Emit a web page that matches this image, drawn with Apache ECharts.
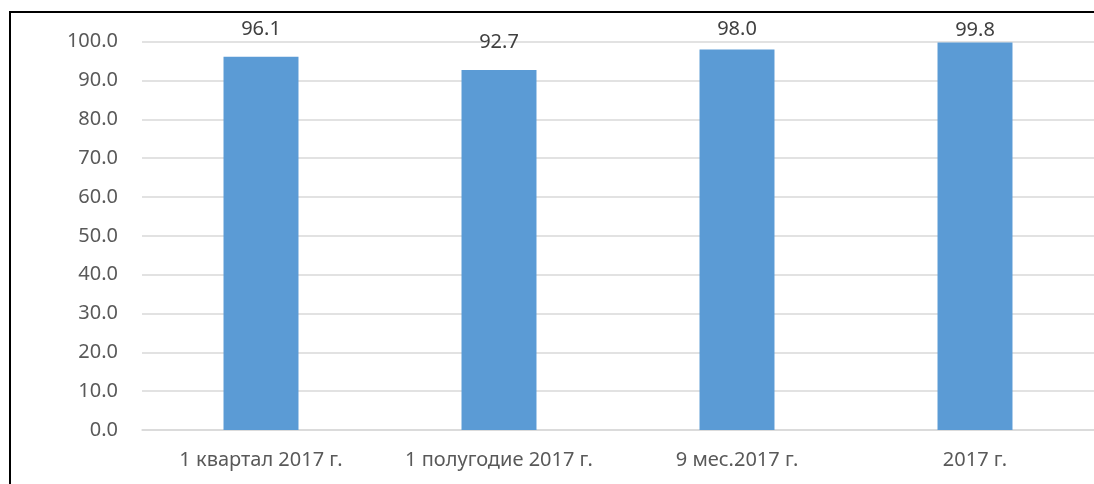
<!DOCTYPE html>
<html>
<head>
<meta charset="utf-8">
<script src="https://cdn.jsdelivr.net/npm/echarts@6/dist/echarts.min.js"></script>
<style>
  html, body { margin: 0; padding: 0; background: #fff; }
  #chart { width: 1094px; height: 484px; }
</style>
</head>
<body>
<div id="chart"></div>
<script>
// категории и значения
var categories = ['1 квартал 2017 г.', '1 полугодие 2017 г.', '9 мес.2017 г.', '2017 г.'];
var values = [96.1, 92.7, 98.0, 99.8];
// подписи оси Y
var yTicks = [0, 10, 20, 30, 40, 50, 60, 70, 80, 90, 100];
// сдвиг подписей над столбиками (в пикселях)
var labelGap = [18, 18, 10, 2];

var chart = echarts.init(document.getElementById('chart'));

var option = {
    animation: false,
    textStyle: { fontFamily: 'Noto Sans' },
    graphic: [{
        type: 'rect',
        shape: { x: 10, y: 12, width: 1200, height: 600 },
        style: { fill: 'none', stroke: '#000', lineWidth: 2 }
    }],
    grid: { left: 142, top: 41.7, width: 957, height: 388.3 },
    xAxis: {
        type: 'category',
        data: categories,
        axisLine: { lineStyle: { color: '#d9d9d9', width: 1.5 } },
        axisTick: { show: false },
        axisLabel: { color: '#595959', fontSize: 20, margin: 20, interval: 0 }
    },
    yAxis: {
        type: 'value',
        min: yTicks[0],
        max: yTicks[yTicks.length - 1],
        interval: 10,
        axisLine: { show: false },
        axisTick: { show: false },
        splitLine: { lineStyle: { color: '#d9d9d9', width: 1.5 } },
        axisLabel: {
            color: '#595959', fontSize: 20, margin: 24,
            formatter: function (v) { return v.toFixed(1); }
        }
    },
    series: [{
        type: 'bar',
        barWidth: '31.5%',
        itemStyle: { color: '#5b9bd5' },
        data: values.map(function (v, i) {
            return {
                value: v,
                label: { distance: labelGap[i] }
            };
        }),
        label: {
            show: true,
            position: 'top',
            color: '#404040',
            fontSize: 20,
            formatter: function (p) { return p.value.toFixed(1); }
        }
    }]
};

chart.setOption(option);
</script>
</body>
</html>
